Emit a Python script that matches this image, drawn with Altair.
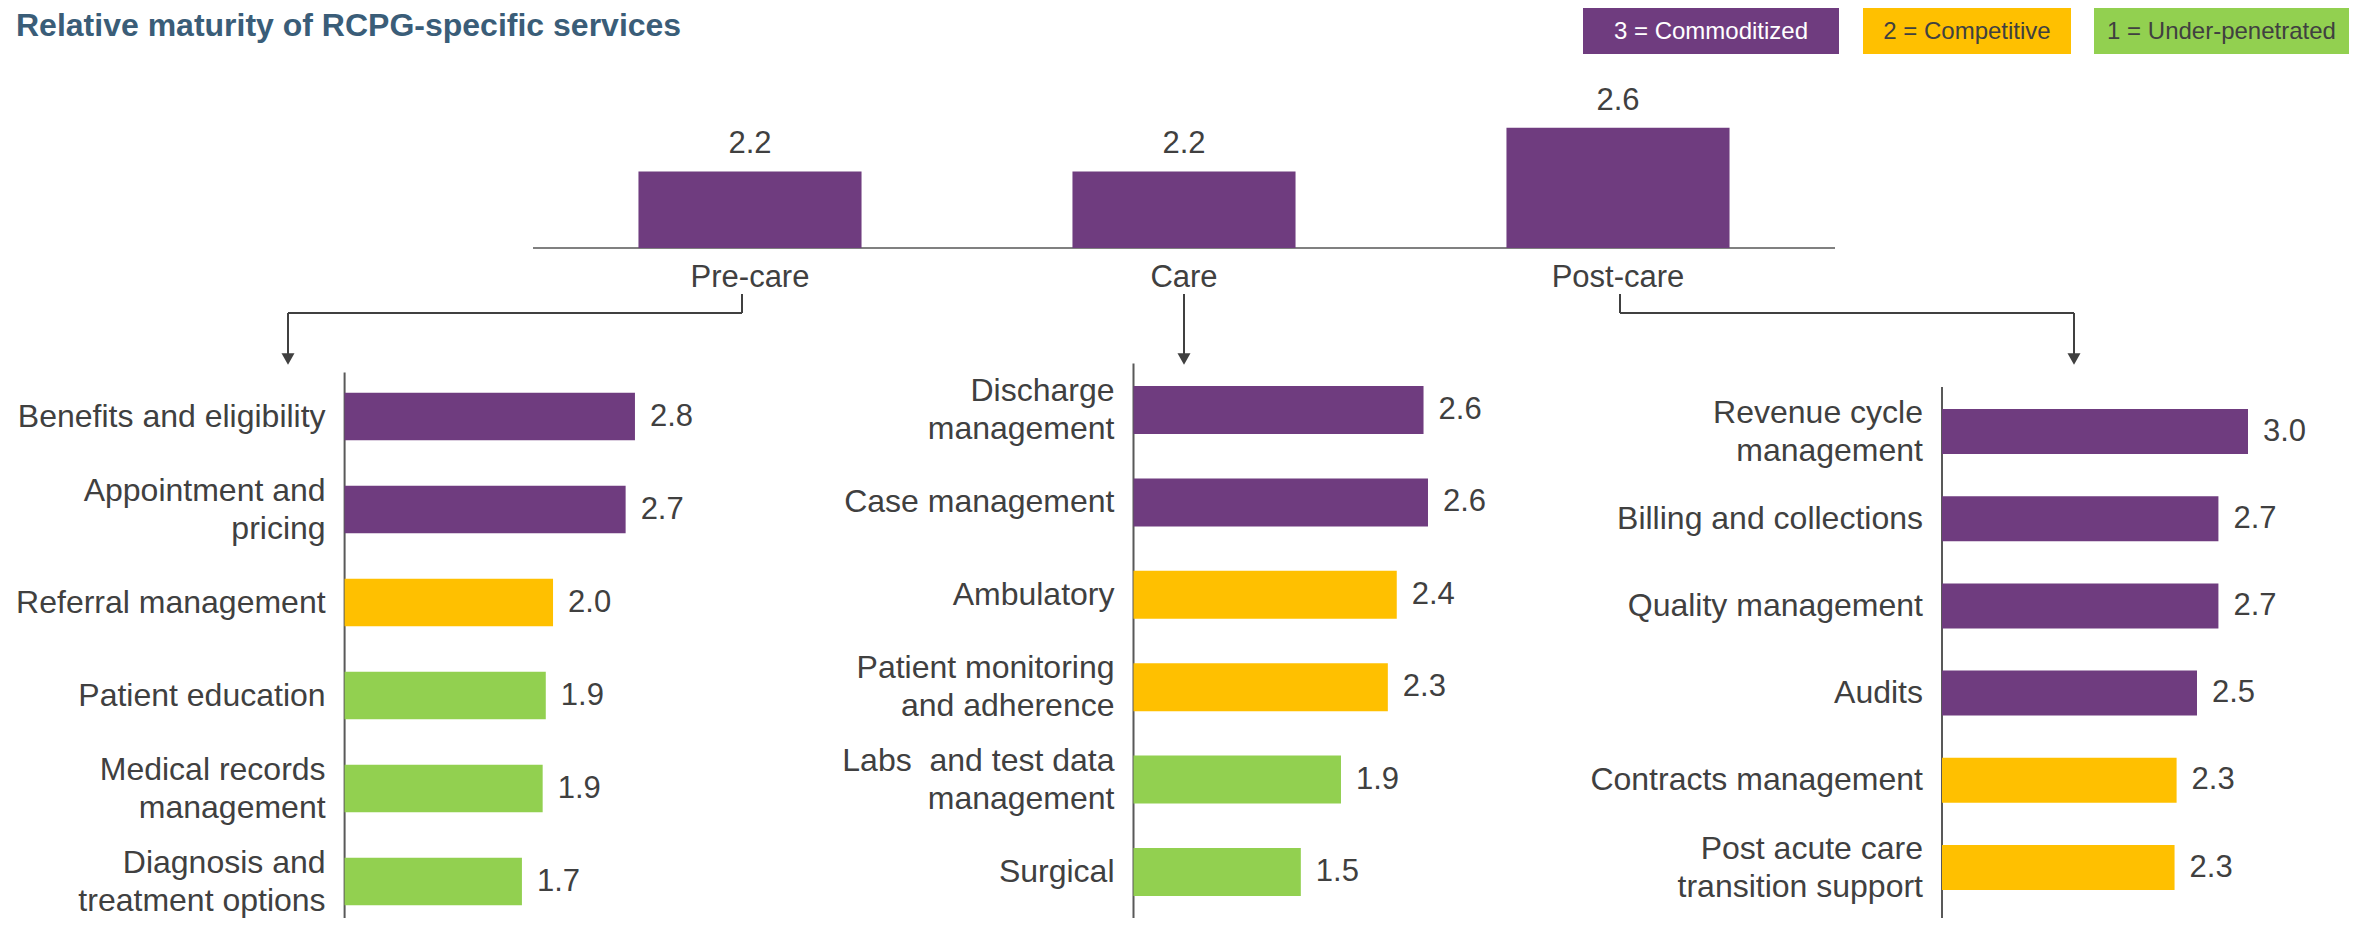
import altair as alt
import pandas as pd

FONT = "Liberation Sans"
TEXT = "#404040"

# ---------------- data ----------------
title_text = "Relative maturity of RCPG-specific services"

legend_labels = ["3 = Commoditized", "2 = Competitive", "1 = Under-penetrated"]
legend_colors = ["#6F3C7F", "#FFC000", "#92D050"]
legend_text_colors = ["#FFFFFF", "#404040", "#404040"]

stages = ["Pre-care", "Care", "Post-care"]
stage_values = [2.2, 2.2, 2.6]

pre_services = ["Benefits and eligibility", "Appointment and\npricing", "Referral management",
                "Patient education", "Medical records\nmanagement", "Diagnosis and\ntreatment options"]
pre_values = [2.80, 2.71, 2.01, 1.94, 1.91, 1.71]
pre_levels = [0, 0, 1, 2, 2, 2]

care_services = ["Discharge\nmanagement", "Case management", "Ambulatory",
                 "Patient monitoring\nand adherence", "Labs\u00a0 and test data\nmanagement", "Surgical"]
care_values = [2.60, 2.64, 2.36, 2.28, 1.86, 1.50]
care_levels = [0, 0, 1, 1, 2, 2]

post_services = ["Revenue cycle\nmanagement", "Billing and collections", "Quality management",
                 "Audits", "Contracts management", "Post acute care\ntransition support"]
post_values = [3.00, 2.71, 2.71, 2.50, 2.30, 2.28]
post_levels = [0, 0, 0, 0, 1, 1]

# ---------------- helpers ----------------
W, H = 2346, 910
LH = 38
one = pd.DataFrame({"k": [0]})
color_scale = alt.Scale(domain=legend_labels, range=legend_colors)


def rule(x1, y1, x2, y2, color=TEXT, width=2):
    return alt.Chart(one).mark_rule(color=color, strokeWidth=width).encode(
        x=alt.value(x1), x2=alt.value(x2), y=alt.value(y1), y2=alt.value(y2))


def arrow_head(x, tip):
    return alt.Chart(one).mark_point(shape="triangle-down", filled=True, size=170,
                                     color=TEXT, opacity=1).encode(
        x=alt.value(x), y=alt.value(tip - 7))


def panel(services, values, lvls, axis_x, per_unit, y0, y1, pin, line_top):
    df = pd.DataFrame({"service": services, "value": values,
                       "level": [legend_labels[i] for i in lvls],
                       "lines": [s.count("\n") + 1 for s in services]})
    base = alt.Chart(df)
    y = alt.Y("service:N", axis=None,
              scale=alt.Scale(domain=services, range=[y0, y1],
                              paddingInner=pin, paddingOuter=pin / 2))
    x = alt.X("value:Q", axis=None,
              scale=alt.Scale(domain=[0, 3], range=[axis_x, axis_x + 3 * per_unit]))
    bars = base.mark_bar().encode(
        x=x, y=y, color=alt.Color("level:N", scale=color_scale, legend=None))
    vals = base.mark_text(align="left", baseline="middle", dx=15, fontSize=31,
                          font=FONT, color=TEXT).encode(
        x=x, y=y, text=alt.Text("value:Q", format=".1f"))
    labels1 = base.transform_filter("datum.lines == 1").mark_text(
        align="right", baseline="middle", fontSize=32, font=FONT, color=TEXT).encode(
        x=alt.value(axis_x - 19), y=y, text="service:N")
    labels2 = base.transform_filter("datum.lines == 2").mark_text(
        align="right", baseline="middle", lineBreak="\n", lineHeight=LH, dy=-LH / 2,
        fontSize=32, font=FONT, color=TEXT).encode(
        x=alt.value(axis_x - 19), y=y, text="service:N")
    axis_line = rule(axis_x, line_top, axis_x, H, color="#595959", width=2)
    return alt.layer(axis_line, bars, vals, labels1, labels2)


# ---------------- header ----------------
header = [alt.Chart(one).mark_text(text=title_text, fontSize=32, fontWeight="bold",
                                   color="#3A5D78", align="left", baseline="alphabetic",
                                   font=FONT).encode(x=alt.value(8), y=alt.value(28))]
legend_boxes = [(1575, 1831), (1855, 2063), (2086, 2341)]
for lab, col, tcol, (a, b) in zip(legend_labels, legend_colors, legend_text_colors, legend_boxes):
    header.append(alt.Chart(one).mark_rect(color=col).encode(
        x=alt.value(a), x2=alt.value(b), y=alt.value(0), y2=alt.value(46)))
    header.append(alt.Chart(one).mark_text(text=lab, color=tcol, fontSize=24, font=FONT,
                                           align="center", baseline="middle").encode(
        x=alt.value((a + b) / 2), y=alt.value(24)))

# ---------------- top summary bars ----------------
top_df = pd.DataFrame({"stage": stages, "value": stage_values})
tx = alt.X("stage:N", axis=None,
           scale=alt.Scale(domain=stages, range=[525, 1827], paddingInner=0.486, paddingOuter=0.243))
ty = alt.Y("value:Q", axis=None, scale=alt.Scale(domain=[1.5, 3.0], range=[240, 76]))
top_base = alt.Chart(top_df)
top = alt.layer(
    top_base.mark_bar(color=legend_colors[0]).encode(x=tx, y=ty, y2=alt.datum(1.5)),
    top_base.mark_text(baseline="alphabetic", dy=-18, fontSize=31, font=FONT, color=TEXT).encode(
        x=tx, y=ty, text=alt.Text("value:Q", format=".1f")),
    top_base.mark_text(baseline="alphabetic", fontSize=31, font=FONT, color=TEXT).encode(
        x=tx, y=alt.value(279), text="stage:N"),
)
baseline = rule(525, 240, 1827, 240, color="#808080", width=2)

# ---------------- connectors ----------------
connectors = [
    rule(734, 286, 734, 305), rule(280, 305, 734, 305), rule(280, 305, 280, 352),
    arrow_head(280, 358),
    rule(1176, 286, 1176, 352), arrow_head(1176, 358),
    rule(1612, 286, 1612, 305), rule(1612, 305, 2066, 305), rule(2066, 305, 2066, 352),
    arrow_head(2066, 358),
]

# ---------------- panels ----------------
left = panel(pre_services, pre_values, pre_levels, 336.6, 103.7, 362, 920, 0.49, 364.6)
mid = panel(care_services, care_values, care_levels, 1125.5, 111.55, 355.8, 910.2, 0.48, 355.6)
right = panel(post_services, post_values, post_levels, 1934, 102, 379.9, 903.1, 0.484, 379)

chart = alt.layer(
    *header, baseline, top, *connectors, left, mid, right
).resolve_scale(x="independent", y="independent").properties(
    width=W, height=H, autosize=alt.AutoSizeParams(type="none"), padding=0
).configure_view(stroke=None)

chart.save("out.html", embed_options={"renderer": "svg", "actions": False})
